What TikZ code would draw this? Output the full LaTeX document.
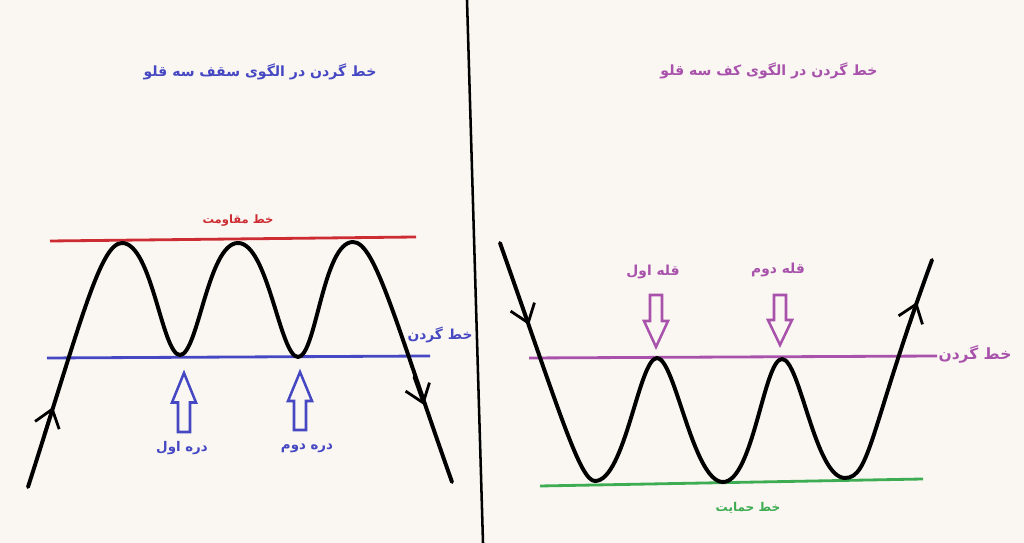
\documentclass[tikz,border=0pt]{standalone}
\usepackage{fontspec}
\newfontfamily\fafont[Script=Arabic]{DejaVu Sans}
\TeXXeTstate=1
\usetikzlibrary{arrows.meta}
\definecolor{paper}{RGB}{250,247,242}
\definecolor{neckblue}{RGB}{70,72,195}
\definecolor{resred}{RGB}{205,45,50}
\definecolor{neckpurple}{RGB}{168,82,172}
\definecolor{supgreen}{RGB}{62,172,82}
\tikzstyle{curve} = [line width=2.8pt, black, line cap=round, line join=round]
\tikzstyle{chevron} = [line width=2pt, black, line cap=round, -{Straight Barb[length=12pt,width=18pt]}]
\tikzstyle{level} = [line width=2pt]
\tikzstyle{title} = [inner sep=1pt, font=\fafont\bfseries\fontsize{10}{12}\selectfont]
\tikzstyle{label} = [inner sep=1pt, font=\fafont\bfseries\fontsize{9.8}{12}\selectfont]
\tikzstyle{small} = [inner sep=1pt, font=\fafont\bfseries\fontsize{8.6}{10}\selectfont]
% hollow arrow: colour, x, tail y, tip y
\newcommand{\hollowarrow}[4]{%
	\pgfmathsetmacro{\hb}{(#3+#4)/2}
	\draw[#1, line width=1.8pt, line join=miter] (#2-6,#3) -- (#2+6,#3) -- (#2+6,\hb) -- (#2+12,\hb) -- (#2,#4) -- (#2-12,\hb) -- (#2-6,\hb) -- cycle;
}

\begin{document}
\begin{tikzpicture}[x=0.025cm,y=0.025cm]
	\useasboundingbox (0,0) rectangle (1024,543);
	\fill[paper] (0,0) rectangle (1024,543);
	\draw[line width=1.8pt] (467,543) -- (483,0);

	% left: triple top
	\node (titleL) [title, text=neckblue] at (260,471) {\beginR خط گردن در الگوی سقف سه قلو\endR};
	\node (resist) [small, text=resred, font=\fafont\bfseries\fontsize{8.2}{10}\selectfont] at (238,322) {\beginR خط مقاومت\endR};
	\draw[level, resred] (50,302) -- (416,306);
	\draw[level, neckblue] (47,185) -- (430,187);
	\node (neckL) [label, text=neckblue] at (440,208) {\beginR خط گردن\endR};
	\coordinate (s1) at (28,56);
	\coordinate (P1) at (122,300);
	\coordinate (V1) at (180,188);
	\coordinate (P2) at (238,300);
	\coordinate (V2) at (298,186);
	\coordinate (P3) at (353,301);
	\coordinate (e1) at (452,61);
	\draw[curve] (s1) .. controls (80,218) and (100,300) .. (P1)
		.. controls (152,300) and (162,188) .. (V1)
		.. controls (198,188) and (208,300) .. (P2)
		.. controls (268,300) and (280,186) .. (V2)
		.. controls (316,186) and (323,301) .. (P3)
		.. controls (375,301) and (395,222) .. (e1);
	\draw[chevron] (44,108) -- (53,136);
	\draw[chevron] (414,166) -- (424,138);
	\hollowarrow{neckblue}{184}{111}{170}
	\hollowarrow{neckblue}{300}{113}{171}
	\node (valley1) [label, text=neckblue, font=\fafont\bfseries\fontsize{9.5}{12}\selectfont] at (182,95) {\beginR دره اول\endR};
	\node (valley2) [label, text=neckblue, font=\fafont\bfseries\fontsize{9.5}{12}\selectfont] at (307,95) {\beginR دره دوم\endR};

	% right: triple bottom
	\node (titleR) [title, text=neckpurple] at (769,472) {\beginR خط گردن در الگوی کف سه قلو\endR};
	\draw[level, neckpurple] (529,185) -- (937,187);
	\node (neckR) [label, text=neckpurple, font=\fafont\bfseries\fontsize{11}{13}\selectfont] at (975,189) {\beginR خط گردن\endR};
	\draw[level, supgreen] (540,57) -- (923,64);
	\node (support) [small, text=supgreen] at (748,35) {\beginR خط حمایت\endR};
	\coordinate (s2) at (500,300);
	\coordinate (W1) at (595,62);
	\coordinate (Q1) at (657,185);
	\coordinate (W2) at (723,61);
	\coordinate (Q2) at (782,184);
	\coordinate (W3) at (845,65);
	\coordinate (e2) at (932,283);
	\draw[curve] (s2) .. controls (560,130) and (580,62) .. (W1)
		.. controls (625,62) and (639,185) .. (Q1)
		.. controls (675,185) and (693,61) .. (W2)
		.. controls (753,61) and (764,184) .. (Q2)
		.. controls (800,184) and (815,65) .. (W3)
		.. controls (870,65) and (870,114) .. (e2);
	\draw[chevron] (519,246) -- (529,218);
	\draw[chevron] (907,213) -- (917,241);
	\hollowarrow{neckpurple}{656}{248}{196}
	\hollowarrow{neckpurple}{780}{248}{198}
	\node (peak1) [label, text=neckpurple] at (653,271) {\beginR قله اول\endR};
	\node (peak2) [label, text=neckpurple] at (778,273) {\beginR قله دوم\endR};
\end{tikzpicture}
\end{document}
